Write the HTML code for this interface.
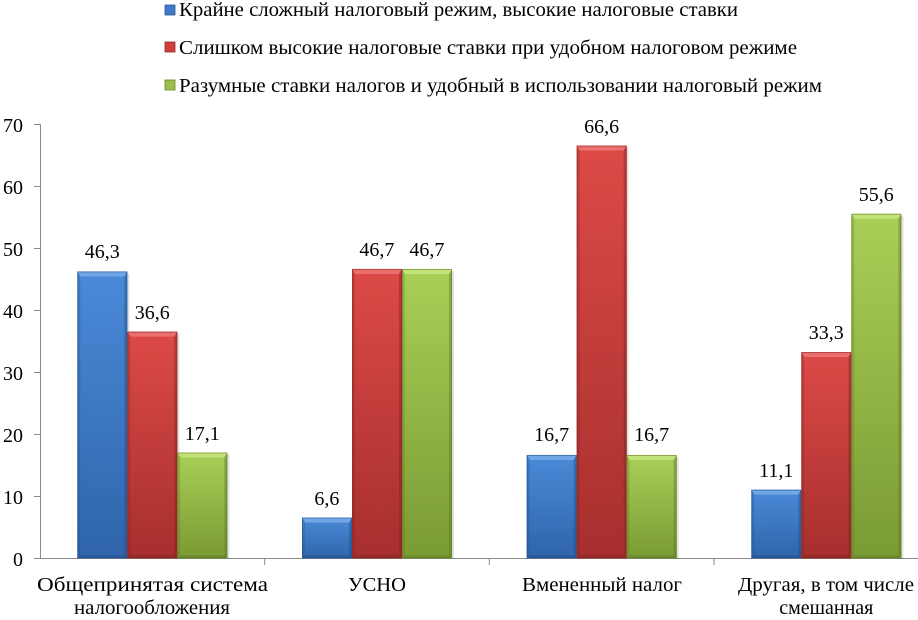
<!DOCTYPE html>
<html><head><meta charset="utf-8"><style>
html,body{margin:0;padding:0;background:#fff;}
body{position:relative;width:918px;height:613px;overflow:hidden;}
svg{display:block;position:absolute;left:0;top:0;}
.t{position:absolute;left:0;top:0;white-space:nowrap;font-family:"Liberation Serif","Noto Serif CJK SC","DejaVu Serif","Times New Roman",serif;font-size:20px;line-height:24px;color:#000;}
</style></head><body>
<svg width="918" height="613" viewBox="0 0 918 613" xmlns="http://www.w3.org/2000/svg">
<defs>
<linearGradient id="gB" x1="0" y1="0" x2="0" y2="1"><stop offset="0" stop-color="#4a8ad8"/><stop offset="1" stop-color="#2f64ab"/></linearGradient>
<linearGradient id="gR" x1="0" y1="0" x2="0" y2="1"><stop offset="0" stop-color="#dc4a47"/><stop offset="1" stop-color="#a62f2d"/></linearGradient>
<linearGradient id="gG" x1="0" y1="0" x2="0" y2="1"><stop offset="0" stop-color="#aacf57"/><stop offset="1" stop-color="#7a9a33"/></linearGradient>
</defs>
<rect x="165" y="5" width="10" height="10" fill="#3f7bc6" stroke="#2a5590" stroke-width="0.8"/>
<rect x="165" y="42" width="10" height="10" fill="#cc3f3c" stroke="#8e2a28" stroke-width="0.8"/>
<rect x="165" y="80" width="10" height="10" fill="#9bbf4a" stroke="#6a852d" stroke-width="0.8"/>
<g stroke="#8a8a8a" stroke-width="1" fill="none">
<line x1="40.5" y1="124.5" x2="40.5" y2="558.5"/>
<line x1="40" y1="558.5" x2="918" y2="558.5"/>
<line x1="34" y1="124.5" x2="40.5" y2="124.5"/>
<line x1="34" y1="186.5" x2="40.5" y2="186.5"/>
<line x1="34" y1="248.5" x2="40.5" y2="248.5"/>
<line x1="34" y1="310.5" x2="40.5" y2="310.5"/>
<line x1="34" y1="372.5" x2="40.5" y2="372.5"/>
<line x1="34" y1="434.5" x2="40.5" y2="434.5"/>
<line x1="34" y1="496.5" x2="40.5" y2="496.5"/>
<line x1="34" y1="558.5" x2="40.5" y2="558.5"/>
<line x1="264.7" y1="558.5" x2="264.7" y2="565"/>
<line x1="489.3" y1="558.5" x2="489.3" y2="565"/>
<line x1="714" y1="558.5" x2="714" y2="565"/>
</g>
<g id="bars"></g>
</svg>

<div class="t" data-x="179" data-b="16" data-a="start" data-w="559">Крайне сложный налоговый режим, высокие налоговые ставки</div>
<div class="t" data-x="179" data-b="54" data-a="start" data-w="618">Слишком высокие налоговые ставки при удобном налоговом режиме</div>
<div class="t" data-x="179" data-b="92" data-a="start" data-w="643">Разумные ставки налогов и удобный в использовании налоговый режим</div>

<div class="t" data-x="23" data-b="131.5" data-a="end">70</div>
<div class="t" data-x="23" data-b="193.5" data-a="end">60</div>
<div class="t" data-x="23" data-b="255.5" data-a="end">50</div>
<div class="t" data-x="23" data-b="317.5" data-a="end">40</div>
<div class="t" data-x="23" data-b="379.5" data-a="end">30</div>
<div class="t" data-x="23" data-b="441.5" data-a="end">20</div>
<div class="t" data-x="23" data-b="503.5" data-a="end">10</div>
<div class="t" data-x="23" data-b="565.5" data-a="end">0</div>

<div class="t" data-x="152.3" data-b="591" data-a="middle" data-w="231">Общепринятая система</div>
<div class="t" data-x="152.3" data-b="614" data-a="middle" data-w="156">налогообложения</div>
<div class="t" data-x="376.9" data-b="591" data-a="middle" data-w="58">УСНО</div>
<div class="t" data-x="601.6" data-b="591" data-a="middle" data-w="160">Вмененный налог</div>
<div class="t" data-x="826.3" data-b="591" data-a="middle" data-w="176">Другая, в том числе</div>
<div class="t" data-x="826.3" data-b="614" data-a="middle">смешанная</div>

<div class="t" data-x="102.3" data-b="258.4" data-a="middle">46,3</div>
<div class="t" data-x="152.3" data-b="318.6" data-a="middle">36,6</div>
<div class="t" data-x="202.3" data-b="439.5" data-a="middle">17,1</div>
<div class="t" data-x="326.9" data-b="504.6" data-a="middle">6,6</div>
<div class="t" data-x="376.9" data-b="256" data-a="middle">46,7</div>
<div class="t" data-x="426.9" data-b="256" data-a="middle">46,7</div>
<div class="t" data-x="551.6" data-b="441" data-a="middle">16,7</div>
<div class="t" data-x="601.6" data-b="132.6" data-a="middle">66,6</div>
<div class="t" data-x="651.6" data-b="441" data-a="middle">16,7</div>
<div class="t" data-x="776.3" data-b="476.7" data-a="middle">11,1</div>
<div class="t" data-x="826.3" data-b="339.1" data-a="middle">33,3</div>
<div class="t" data-x="876.3" data-b="200.8" data-a="middle">55,6</div>

<script>
(function(){
var ns="http://www.w3.org/2000/svg";
var bars=document.getElementById("bars");
var data=[[46.3,36.6,17.1],[6.6,46.7,46.7],[16.7,66.6,16.7],[11.1,33.3,55.6]];
var grads=["url(#gB)","url(#gR)","url(#gG)"];
var light=["#7fb0ec","#f07c78","#cbe886"];
var dark=["#1f4a85","#7e2020","#5a7322"];
var edge=["#2a5590","#8e2a28","#66802b"];
var base=558.5, k=6.2, cw=224.67, x0=40;
function poly(pts,fill,op){var p=document.createElementNS(ns,"polygon");p.setAttribute("points",pts);p.setAttribute("fill",fill);if(op!==undefined)p.setAttribute("fill-opacity",op);bars.appendChild(p);}
for(var c=0;c<4;c++){
  var cx=x0+cw*c+cw/2;
  for(var s=0;s<3;s++){
    var v=data[c][s];
    var xl=cx-75+s*50, xr=xl+50;
    var yt=base-v*k, yb=base;
    var sh=document.createElementNS(ns,"rect");
    sh.setAttribute("x",xl+2);sh.setAttribute("y",yt+2);sh.setAttribute("width",50);sh.setAttribute("height",yb-yt-2);
    sh.setAttribute("fill","#000");sh.setAttribute("fill-opacity","0.12");bars.appendChild(sh);
    var r=document.createElementNS(ns,"rect");
    r.setAttribute("x",xl);r.setAttribute("y",yt);r.setAttribute("width",50);r.setAttribute("height",yb-yt);
    r.setAttribute("fill",grads[s]);bars.appendChild(r);
    var b=5, bs=3;
    poly(xl+","+yt+" "+xr+","+yt+" "+(xr-bs)+","+(yt+b)+" "+(xl+bs)+","+(yt+b),light[s],0.75);
    poly(xl+","+yt+" "+(xl+bs)+","+(yt+b)+" "+(xl+bs)+","+(yb-bs)+" "+xl+","+yb,dark[s],0.25);
    poly(xr+","+yt+" "+(xr-bs)+","+(yt+b)+" "+(xr-bs)+","+(yb-bs)+" "+xr+","+yb,dark[s],0.4);
    poly(xl+","+yb+" "+(xl+bs)+","+(yb-bs)+" "+(xr-bs)+","+(yb-bs)+" "+xr+","+yb,dark[s],0.5);
    var o=document.createElementNS(ns,"rect");
    o.setAttribute("x",xl+0.5);o.setAttribute("y",yt+0.5);o.setAttribute("width",49);o.setAttribute("height",yb-yt-1);
    o.setAttribute("fill","none");o.setAttribute("stroke",edge[s]);o.setAttribute("stroke-width","1");o.setAttribute("stroke-opacity","0.6");bars.appendChild(o);
  }
}
var ts=document.querySelectorAll(".t");
for(var i=0;i<ts.length;i++){
  var d=ts[i];
  var m=document.createElement("span");
  m.style.cssText="display:inline-block;width:0;height:0;vertical-align:baseline;";
  d.appendChild(m);
  var w=d.getBoundingClientRect().width;
  var bo=m.offsetTop;
  var x=parseFloat(d.getAttribute("data-x"));
  var by=parseFloat(d.getAttribute("data-b"));
  var a=d.getAttribute("data-a");
  var tw=d.getAttribute("data-w");
  var sc=1;
  if(tw){sc=parseFloat(tw)/w;d.style.transformOrigin="0 0";d.style.transform="scaleX("+sc+")";}
  var ww=w*sc;
  var left=a==="start"?x:(a==="middle"?x-ww/2:x-ww);
  d.style.left=left+"px";
  d.style.top=(by-bo)+"px";
}
})();
</script>
</body></html>
